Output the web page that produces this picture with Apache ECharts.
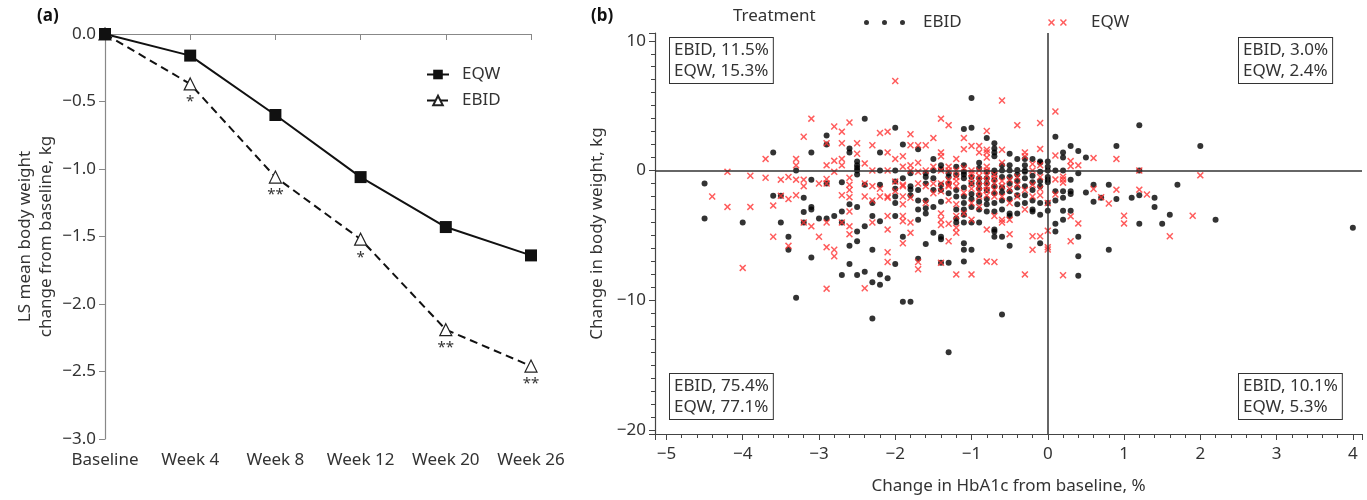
<!DOCTYPE html>
<html>
<head>
<meta charset="utf-8">
<title>EQW vs EBID body weight</title>
<script src="https://cdn.jsdelivr.net/npm/echarts@6/dist/echarts.min.js"></script>
<style>
  html, body { margin: 0; padding: 0; background: #fff; }
  #main { width: 1367px; height: 500px; }
</style>
</head>
<body>
<div id="main"></div>
<script>
// (a) LS mean change over time
var weeks = ['Baseline', 'Week 4', 'Week 8', 'Week 12', 'Week 20', 'Week 26']
var eqwMean = [0, -0.16, -0.60, -1.06, -1.43, -1.64]
var ebidMean = [0, -0.37, -1.06, -1.52, -2.19, -2.46]
var ebidStars = ['', '*', '**', '*', '**', '**']

// (b) quadrant percentages
var quadText = [
  ['EBID, 11.5%', 'EQW, 15.3%'],
  ['EBID, 3.0%', 'EQW, 2.4%'],
  ['EBID, 75.4%', 'EQW, 77.1%'],
  ['EBID, 10.1%', 'EQW, 5.3%']
]

// (b) individual patients [HbA1c change, weight change]
var ebidPoints = [
  [1.2,3.5],[0.1,2.6],[0.3,1.9],[0.9,1.9],[2.0,1.9],[0.2,1.4],[0.4,1.5],[0.2,1.0],[0.5,1.0],[0.0,0.7],
  [-0.1,0.6],[0.0,0.3],[0.1,0.0],[0.2,0.0],[0.4,-0.2],[1.2,0.0],[0.0,-0.5],[0.3,-0.7],[0.0,-0.9],[0.6,-1.1],
  [0.8,-1.1],[1.7,-1.1],[0.5,-1.7],[0.1,-1.6],[0.2,-1.6],[0.3,-1.6],[0.3,-1.8],[1.2,-1.9],[1.4,-2.1],[1.1,-2.1],
  [0.7,-2.1],[0.9,-2.2],[0.6,-2.4],[0.1,-2.3],[0.2,-2.1],[0.0,-2.5],[1.4,-2.8],[0.0,-3.1],[0.2,-3.1],[0.3,-3.1],
  [1.6,-3.4],[0.2,-3.8],[2.2,-3.8],[0.1,-4.1],[1.2,-4.1],[1.5,-4.1],[4.0,-4.4],[0.1,-4.7],[0.4,-5.1],[-0.1,-5.6],
  [0.8,-6.1],[0.4,-6.6],[0.4,-8.1],
  [-1.0,5.6],[-2.4,4.0],[-2.0,3.3],[-1.1,3.2],[-1.0,3.3],[-0.8,2.5],[-1.9,2.0],[-1.7,1.65],[-2.2,1.4],[-1.5,0.9],
  [-1.1,0.4],[-0.7,2.1],[-0.7,1.7],[-0.5,1.3],[-0.4,0.9],[-0.3,0.9],[-0.2,0.9],[-0.1,0.7],
  [-2.5,0.2],[-2.2,0.0],[-2.0,0.0],[-1.8,-0.2],[-1.6,-0.5],[-1.6,-0.2],[-1.5,0.0],[-1.4,0.4],[-1.3,-0.2],[-1.1,-0.6],
  [-0.9,0.2],[-0.7,-0.2],[-0.7,-0.7],[-0.6,0.0],[-0.5,0.0],[-0.4,-0.3],[-0.3,0.0],[-0.1,-0.1],[0.0,0.0],[0.0,-0.7],
  [-2.2,-1.1],[-2.3,-2.5],[-2.0,-2.0],[-2.0,-0.85],[-1.8,-1.2],[-1.8,-1.9],[-1.7,-3.0],[-1.6,-2.9],[-1.5,-1.5],[-1.5,-2.8],
  [-1.4,-1.5],[-1.4,-2.4],[-1.3,-1.75],[-1.2,-2.0],[-1.2,-3.0],[-1.1,-2.5],[-1.1,-3.0],[-1.0,-2.8],[-0.9,-1.4],[-0.9,-2.4],
  [-0.8,-1.5],[-0.7,-1.75],[-0.7,-4.55],[-0.6,-2.3],[-0.6,-3.0],[-0.5,-3.3],[-0.4,-2.6],[-0.3,-1.2],[-0.2,-1.5],[-0.2,-3.0],
  [-2.3,-3.5],[-2.4,-4.3],[-2.2,-3.9],[-2.0,-3.5],[-1.9,-5.1],[-2.3,-6.1],[-2.0,-7.2],[-1.7,-6.8],[-1.6,-5.65],[-1.4,-5.1],
  [-1.4,-7.1],[-1.3,-7.1],[-1.1,-7.0],[-1.1,-6.1],[-1.0,-6.1],[-0.6,-11.1],[-2.4,-7.8],[-2.3,-8.6],[-2.2,-8.0],[-2.2,-8.8],
  [-2.1,-8.3],[-1.9,-10.1],[-1.8,-10.1],[-2.3,-11.4],[-1.3,-14.0],
  [-2.9,2.7],[-2.9,2.0],[-2.6,1.7],[-2.6,1.4],[-2.5,0.7],[-2.5,0.4],[-2.5,0.0],[-3.6,1.4],[-3.1,1.4],[-3.3,0.0],
  [-3.1,-0.7],[-2.9,-1.0],[-2.7,-0.9],[-2.5,-0.3],[-2.4,-1.1],[-4.5,-1.0],[-4.5,-3.7],[-4.0,-4.0],[-3.6,-1.95],[-3.5,-1.95],
  [-3.2,-2.1],[-3.2,-3.2],[-3.1,-2.8],[-3.1,-3.0],[-3.0,-3.7],[-2.9,-3.7],[-2.8,-3.5],[-3.5,-4.0],[-3.4,-5.1],[-3.4,-6.1],
  [-3.2,-4.0],[-3.1,-6.7],[-2.7,-3.15],[-2.6,-2.6],[-2.5,-2.8],[-2.5,-4.7],[-2.5,-5.45],[-2.6,-5.8],[-2.6,-7.2],[-2.7,-8.05],
  [-2.5,-8.05],[-3.3,-9.8],[-2.7,-4.0],
  [-2.0,-1.4],[-1.8,-1.45],[-1.6,-1.0],[-1.5,-0.6],[-1.4,-1.1],[-1.2,-0.35],[-1.1,-0.3],[-2.0,-2.5],[-1.7,-2.3],[-1.6,-2.3],
  [-1.4,0.1],[-1.1,-0.1],[-0.7,1.4],[-0.7,1.1],[-0.6,0.4],[-0.8,-0.1],[-0.7,0.0],[-0.4,0.05],[-0.3,-0.1],
  [-1.7,-3.8],[-1.6,-3.3],[-1.2,-3.7],[-1.2,-4.0],[-1.1,-3.4],[-1.1,-4.0],[-1.5,-4.8],[-1.4,-5.3],[-1.1,-5.6],
  [-0.8,-3.15],[-0.7,-3.15],[-0.5,-3.5],[-0.2,-3.15],[-1.0,-4.0],[-0.9,-4.0],[-0.7,-4.7],[-0.7,-5.1],[-0.6,-5.1],[-0.5,-5.8],
  [-1.0,-0.5],[-1.0,-1.0],[-1.0,-1.8],[-0.9,-0.6],[-0.9,-1.0],[-0.9,-1.9],[-0.9,-3.0],[-0.8,-0.6],[-0.8,-1.0],[-0.8,-2.2],
  [-0.8,-2.6],[-0.7,-1.2],[-0.7,-2.5],[-0.6,-0.5],[-0.6,-1.3],[-0.6,-1.7],[-0.5,-0.5],[-0.5,-1.0],[-0.5,-1.6],[-0.5,-2.2],
  [-0.4,-0.8],[-0.4,-1.3],[-0.4,-1.9],[-0.4,-3.3],[-0.3,-0.6],[-0.3,-1.9],[-0.3,-2.5],[-0.2,-0.4],[-0.2,-0.9],[-0.2,-2.3],
  [-0.1,-0.8],[-0.1,-1.2],[-0.1,-2.5],[-0.1,-3.4],[-1.3,-0.5],[-1.3,-1.0],[-1.2,-1.5],[-1.1,-1.3],[-1.1,-2.0],[-1.0,-2.2],
  [-1.2,0.3],[-0.9,0.6],[-0.5,0.4],[-0.3,0.4],[-1.9,-0.6],[-1.7,-1.5]
]

var eqwPoints = [
  [0.1,4.55],[-0.1,3.66],[-0.1,1.67],[0.1,1.16],[0.6,0.96],[0.9,0.9],[0.3,0.73],[0.3,0.34],[0.4,0.4],[1.2,0.0],
  [2.0,-0.37],[0.2,-0.47],[0.2,-0.68],[0.1,-0.68],[0.2,-0.93],[0.6,-1.42],[0.9,-1.47],[1.2,-1.47],[0.1,-1.85],[1.3,-1.85],
  [0.7,-2.05],[0.8,-2.54],[0.0,-2.5],[1.9,-3.48],[1.0,-3.48],[0.3,-3.53],[0.4,-4.07],[1.0,-4.07],[0.0,-4.63],[1.6,-5.06],
  [-0.1,-5.06],[0.3,-5.45],[0.0,-5.9],[0.0,-6.08],[0.2,-8.07],
  [-2.0,6.9],[-0.6,5.4],[-1.4,4.0],[-1.3,3.5],[-0.4,3.5],[-2.2,2.9],[-2.1,3.0],[-1.8,2.8],[-0.8,3.05],[-1.1,2.5],
  [-1.5,2.5],[-2.3,1.95],[-1.8,1.95],[-1.7,1.95],[-1.6,1.95],[-1.4,1.4],[-2.1,1.4],[-2.0,0.9],[-1.9,1.1],[-1.2,0.9],
  [-1.1,1.65],[-1.0,1.9],[-0.9,1.9],[-0.8,1.6],[-0.6,1.6],[-0.3,1.4],
  [-2.4,0.55],[-2.3,0.0],[-2.1,0.0],[-1.7,-0.1],[-1.4,0.0],[-1.3,-0.7],[-1.2,-0.5],[-1.0,-0.2],[-0.8,0.0],[-0.8,0.3],
  [-0.7,-1.0],[-0.2,0.0],[-0.1,-0.5],
  [-2.4,-1.0],[-2.2,-1.4],[-2.4,-2.0],[-2.3,-2.3],[-2.2,-2.0],[-2.1,-2.0],[-1.9,-2.0],[-1.9,-1.2],[-1.8,-2.1],[-1.6,-2.5],
  [-1.5,-1.75],[-1.4,-1.0],[-1.4,-3.3],[-1.3,-1.2],[-1.3,-2.3],[-1.2,-3.5],[-1.1,-3.3],[-1.0,-1.4],[-0.9,-2.0],[-0.9,-2.8],
  [-0.8,-1.9],[-0.7,-3.5],[-0.6,-3.8],[-0.5,-3.8],[-0.1,-1.9],[-0.2,-5.06],
  [-2.3,-4.0],[-2.1,-4.55],[-1.9,-5.6],[-2.1,-6.3],[-2.1,-7.05],[-1.7,-7.05],[-1.7,-7.6],[-1.3,-5.45],[-1.2,-8.0],[-1.0,-8.0],
  [-0.8,-7.0],[-0.7,-7.05],[-0.3,-8.0],[-2.4,-9.07],[-2.9,-9.1],
  [-3.1,4.0],[-2.8,3.4],[-2.6,3.7],[-3.2,2.6],[-2.7,3.0],[-2.9,2.1],[-2.7,2.1],[-2.5,2.1],[-2.5,1.3],[-3.7,0.9],
  [-3.3,0.9],[-3.3,0.4],[-2.9,0.4],[-2.8,0.75],[-2.8,-0.1],[-2.7,0.4],[-2.7,0.9],[-4.2,-0.1],[-3.9,-0.4],[-3.7,-0.55],
  [-3.5,-0.7],[-3.4,-0.5],[-3.3,-0.7],[-3.2,-0.7],[-3.2,-1.2],[-3.0,-1.0],[-2.9,-1.0],[-2.9,-0.65],[-2.6,-0.55],[-2.6,-1.1],
  [-4.4,-2.0],[-4.2,-2.8],[-3.9,-2.8],[-4.0,-7.5],[-3.5,-1.95],[-3.6,-2.7],[-3.4,-2.2],[-3.3,-1.9],[-3.4,-5.8],[-3.6,-5.1],
  [-3.2,-4.0],[-3.1,-4.3],[-3.0,-5.1],[-2.9,-4.0],[-2.9,-5.9],[-2.8,-6.1],[-2.8,-6.6],[-2.7,-1.9],[-2.6,-1.5],[-2.6,-2.05],
  [-2.6,-3.15],[-2.7,-4.0],[-2.6,-4.3],[-2.6,-4.9],
  [-1.8,0.4],[-1.4,1.1],[-1.5,0.3],[-1.3,0.3],[-2.0,-0.85],[-1.9,-1.1],[-1.7,-1.0],[-1.6,-1.2],[-1.5,-1.0],[-1.4,-1.6],
  [-1.3,-1.1],[-1.2,-0.8],[-1.2,-1.2],[-2.1,-2.1],[-1.9,-2.6],[-1.8,0.0],[-1.6,0.0],[-1.3,0.0],[-1.2,0.0],
  [-0.8,1.4],[-0.8,1.0],[-0.9,1.4],[-0.3,1.1],[-1.0,0.0],[-0.9,0.0],
  [-2.1,-3.5],[-1.9,-3.5],[-1.9,-3.9],[-1.8,-4.0],[-1.4,-3.8],[-1.4,-4.2],[-1.3,-4.1],[-1.2,-4.4],[-1.2,-4.8],[-1.8,-4.8],
  [-1.4,-7.1],[-1.0,-3.8],[-0.8,-4.55],[-0.6,-4.0],[-0.5,-4.9],[-0.2,-6.1],
  [-1.0,-0.6],[-1.0,-1.0],[-0.9,-0.4],[-0.9,-0.8],[-0.9,-1.2],[-0.9,-1.6],[-0.8,-0.4],[-0.8,-0.8],[-0.8,-1.2],[-0.8,-1.5],
  [-0.7,-0.3],[-0.7,-0.6],[-0.7,-1.5],[-0.7,-2.0],[-0.6,-0.8],[-0.6,-1.2],[-0.6,-2.0],[-0.5,-0.7],[-0.5,-1.4],[-0.5,-2.5],
  [-0.4,-0.5],[-0.4,-1.1],[-0.4,-2.0],[-0.3,-1.5],[-0.3,-3.0],[-0.2,-1.1],[-0.2,-2.0],[-0.1,-1.4],[-0.1,0.4],[-0.2,0.5],
  [-0.6,0.6],[-1.1,0.2],[-1.1,-1.7],[-1.2,-2.6],[-1.0,-2.5],[-1.7,0.6],[-1.9,0.3],[-2.0,-1.6],[-2.3,-1.2]
]

var font = 'Noto Sans'
var ink = '#333'
var red = '#f33'

function minus(v) {
  return String(v).replace('-', '\u2212')
}

// cross shape for EQW, 10x10 box
function cross(dx) {
  var p = [[0,1.5],[1.5,0],[5,3.5],[8.5,0],[10,1.5],[6.5,5],[10,8.5],[8.5,10],[5,6.5],[1.5,10],[0,8.5],[3.5,5]]
  return p.map(function (q, i) { return (i ? 'L' : 'M') + (q[0] + dx) + ',' + q[1] }).join('') + 'Z'
}
function dot(cx) {
  return 'M' + (cx - 2.5) + ',2.5a2.5,2.5 0 1,0 5,0a2.5,2.5 0 1,0 -5,0'
}

var quadPos = [[669, 37], [1238, 37], [669, 373], [1238, 373]]
var boxes = quadText.map(function (t, i) {
  return {
    type: 'text',
    left: quadPos[i][0],
    top: quadPos[i][1],
    style: {
      text: t.join('\n'),
      font: '17px "' + font + '"',
      fill: ink,
      lineHeight: 21,
      padding: [2, 4, 1, 4],
      borderColor: ink,
      borderWidth: 1,
      backgroundColor: '#fff'
    }
  }
})

var chart = echarts.init(document.getElementById('main'))

var option = {
  animation: false,
  textStyle: { fontFamily: font, color: ink },
  grid: [
    { left: 105, top: 34, width: 426, height: 405 },
    { left: 655, top: 33, width: 707, height: 403 }
  ],
  legend: [
    {
      data: ['EQW', 'EBID'],
      orient: 'vertical',
      left: 421,
      top: 61,
      itemWidth: 22,
      itemHeight: 12,
      itemGap: 9,
      textStyle: { fontSize: 17, color: ink, padding: [0, 0, 0, 8] }
    },
    {
      data: [{ name: 'EBID-b', icon: 'path://' + dot(2.5) + dot(20.5) + dot(38.5) }],
      left: 859,
      top: 9,
      itemWidth: 41,
      itemHeight: 5,
      formatter: function (n) { return n.replace('-b', '') },
      textStyle: { fontSize: 17, color: ink, padding: [0, 0, 0, 13] }
    },
    {
      data: [{ name: 'EQW-b', icon: 'path://' + cross(0) + cross(17), itemStyle: { color: red } }],
      left: 1043,
      top: 9,
      itemWidth: 27,
      itemHeight: 7,
      formatter: function (n) { return n.replace('-b', '') },
      textStyle: { fontSize: 17, color: ink, padding: [0, 0, 0, 15] }
    }
  ],
  xAxis: [
    {
      gridIndex: 0,
      type: 'category',
      data: weeks,
      boundaryGap: false,
      axisLine: { lineStyle: { color: '#888', width: 1.2 } },
      axisTick: { length: 6, interval: 0, lineStyle: { color: '#888' } },
      axisLabel: { fontSize: 17, color: ink, margin: 13, interval: 0 }
    },
    {
      gridIndex: 1,
      type: 'value',
      min: -5.15,
      max: 4.12,
      splitNumber: 9,
      splitLine: { show: false },
      axisLine: { onZero: false, lineStyle: { color: '#444', width: 1.2 } },
      axisTick: { length: 6, lineStyle: { color: '#444' } },
      minorTick: { show: true, splitNumber: 5, length: 4, lineStyle: { color: '#444' } },
      axisLabel: {
        fontSize: 17, color: ink, margin: 12,
        formatter: function (v) { return Math.abs(v - Math.round(v)) < 1e-6 ? minus(Math.round(v)) : '' }
      },
      name: 'Change in HbA1c from baseline, %',
      nameLocation: 'middle',
      nameGap: 44,
      nameTextStyle: { fontSize: 17, color: ink }
    }
  ],
  yAxis: [
    {
      gridIndex: 0,
      type: 'value',
      min: -3,
      max: 0,
      interval: 0.5,
      splitLine: { show: false },
      axisLine: { show: true, lineStyle: { color: '#888', width: 1.2 } },
      axisTick: { show: true, length: 6, lineStyle: { color: '#888' } },
      axisLabel: {
        fontSize: 17, color: ink, margin: 9,
        formatter: function (v) { return minus(v.toFixed(1)) }
      },
      name: 'LS mean body weight\nchange from baseline, kg',
      nameLocation: 'middle',
      nameRotate: 90,
      nameGap: 48,
      nameTextStyle: { fontSize: 17, color: ink, lineHeight: 21 }
    },
    {
      gridIndex: 1,
      type: 'value',
      min: -20.3,
      max: 10.6,
      splitNumber: 3,
      splitLine: { show: false },
      axisLine: { show: true, onZero: false, lineStyle: { color: '#444', width: 1.2 } },
      axisTick: { show: true, length: 6, lineStyle: { color: '#444' } },
      minorTick: { show: true, splitNumber: 10, length: 4, lineStyle: { color: '#444' } },
      axisLabel: {
        fontSize: 17, color: ink, margin: 9,
        formatter: function (v) { return Math.abs(v % 10) < 1e-6 ? minus(v) : '' }
      },
      name: 'Change in body weight, kg',
      nameLocation: 'middle',
      nameRotate: 90,
      nameGap: 44,
      nameTextStyle: { fontSize: 17, color: ink }
    }
  ],
  series: [
    {
      name: 'EBID',
      type: 'line',
      xAxisIndex: 0,
      yAxisIndex: 0,
      data: ebidMean,
      symbol: 'triangle',
      symbolSize: 12,
      itemStyle: { color: '#fff', borderColor: '#222', borderWidth: 1.2 },
      lineStyle: { color: '#111', width: 2, type: [8, 5] },
      label: {
        show: true,
        position: 'bottom',
        distance: 4,
        fontSize: 15,
        color: ink,
        formatter: function (p) { return ebidStars[p.dataIndex] }
      }
    },
    {
      name: 'EQW',
      type: 'line',
      xAxisIndex: 0,
      yAxisIndex: 0,
      data: eqwMean,
      symbol: 'rect',
      symbolSize: 12,
      itemStyle: { color: '#111' },
      lineStyle: { color: '#111', width: 2 }
    },
    {
      name: 'EBID-b',
      type: 'scatter',
      xAxisIndex: 1,
      yAxisIndex: 1,
      data: ebidPoints,
      symbol: 'circle',
      symbolSize: 6,
      itemStyle: { color: '#000' },
      markLine: {
        silent: true,
        symbol: 'none',
        label: { show: false },
        lineStyle: { color: '#333', width: 1.5, type: 'solid' },
        data: [{ xAxis: 0 }, { yAxis: 0 }]
      }
    },
    {
      name: 'EQW-b',
      type: 'scatter',
      xAxisIndex: 1,
      yAxisIndex: 1,
      data: eqwPoints,
      symbol: 'path://' + cross(0),
      symbolSize: 7,
      itemStyle: { color: red }
    }
  ],
  graphic: [
    { type: 'text', left: 37, top: 8, style: { text: '(a)', font: 'bold 17px "' + font + '"', fill: '#111' } },
    { type: 'text', left: 591, top: 8, style: { text: '(b)', font: 'bold 17px "' + font + '"', fill: '#111' } },
    { type: 'text', left: 733, top: 8, style: { text: 'Treatment', font: '17px "' + font + '"', fill: ink } }
  ].concat(boxes)
}

chart.setOption(option)
</script>
</body>
</html>
